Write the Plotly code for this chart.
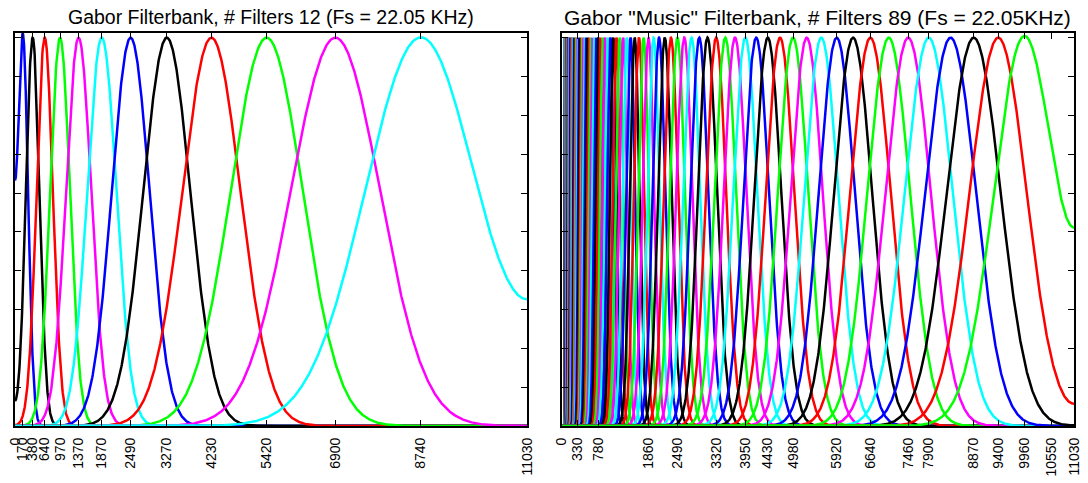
import numpy as np
import plotly.graph_objects as go

# ---------------- data ----------------
left_centers = [170, 380, 640, 970, 1370, 1870, 2490, 3270, 4230, 5420, 6900, 8740]
left_sigmas = [112, 145, 175, 213, 272, 315, 405, 505, 625, 775, 960, 1200]
left_ticks = [0, 170, 380, 640, 970, 1370, 1870, 2490, 3270, 4230, 5420, 6900, 8740, 11030]

# equal-tempered note centres B1 .. D#9 (89 filters)
right_centers = [
    61.74, 65.41, 69.30, 73.42, 77.78, 82.41, 87.31, 92.50, 98.00, 103.83, 110.00, 116.54, 123.47,
    130.81, 138.59, 146.83, 155.56, 164.81, 174.61, 185.00, 196.00, 207.65, 220.00, 233.08, 246.94,
    261.63, 277.18, 293.66, 311.13, 329.63, 349.23, 369.99, 392.00, 415.30, 440.00, 466.16, 493.88,
    523.25, 554.37, 587.33, 622.25, 659.26, 698.46, 739.99, 783.99, 830.61, 880.00, 932.33, 987.77,
    1046.50, 1108.73, 1174.66, 1244.51, 1318.51, 1396.91, 1479.98, 1567.98, 1661.22, 1760.00, 1864.66, 1975.53,
    2093.00, 2217.46, 2349.32, 2489.02, 2637.02, 2793.83, 2959.96, 3135.96, 3322.44, 3520.00, 3729.31, 3951.07,
    4186.01, 4434.92, 4698.64, 4978.03, 5274.04, 5587.65, 5919.91, 6271.93, 6644.88, 7040.00, 7458.62, 7902.13,
    8372.02, 8869.84, 9397.27, 9956.06,
]
right_rel_sigma = 0.065  # sigma / centre frequency (constant Q)
right_ticks = [0, 330, 780, 1860, 2490, 3320, 3950, 4430, 4980, 5920, 6640, 7460, 7900,
               8870, 9400, 9960, 10550, 11030]

colors = ["#0000FF", "#000000", "#FF0000", "#00FF00", "#FF00FF", "#00FFFF"]

NYQ = 11025.0
XMAX = 11030.0


def response(f, fc, s):
    # gaussian band with its mirror images at 0 Hz and at Nyquist
    return (np.exp(-(f - fc) ** 2 / (2 * s * s))
            + np.exp(-(f + fc) ** 2 / (2 * s * s))
            + np.exp(-(f - (2 * NYQ - fc)) ** 2 / (2 * s * s)))


def freq_grid(fc, s):
    base = np.linspace(0, XMAX, 1200)
    dense = fc + s * np.linspace(-6, 6, 201)
    g = np.unique(np.concatenate([base, dense]))
    return g[(g >= 0) & (g <= XMAX)]


fig = go.Figure()

for i, (fc, s) in enumerate(zip(left_centers, left_sigmas)):
    f = freq_grid(fc, s)
    fig.add_trace(go.Scatter(x=f, y=response(f, fc, s), mode="lines",
                             line=dict(color=colors[i % 6], width=2.5),
                             xaxis="x", yaxis="y", hoverinfo="skip"))

for i, fc in enumerate(right_centers):
    s = right_rel_sigma * fc
    f = freq_grid(fc, s)
    fig.add_trace(go.Scatter(x=f, y=response(f, fc, s), mode="lines",
                             line=dict(color=colors[(i + 5) % 6], width=2.5),
                             xaxis="x2", yaxis="y2", hoverinfo="skip"))

axis_style = dict(showline=True, linecolor="black", linewidth=2, mirror="ticks",
                  ticks="inside", ticklen=6, tickcolor="black", tickwidth=1,
                  showgrid=False, zeroline=False)
tick_font = dict(family="Liberation Sans, Arial, sans-serif", size=14, color="black")

W, H = 1088, 483
ml, mr, mt, mb = 15, 6, 33, 51
pw = W - ml - mr
d1 = 516 / pw
d2 = 551 / pw

fig.update_layout(
    width=W, height=H,
    margin=dict(l=ml, r=mr, t=mt, b=mb),
    paper_bgcolor="white", plot_bgcolor="white",
    showlegend=False,
    xaxis=dict(domain=[0, d1], range=[0, XMAX], tickmode="array",
               tickvals=left_ticks, ticktext=[str(v) for v in left_ticks],
               tickangle=-90, tickfont=tick_font, ticklabelstandoff=4,
               anchor="y", **axis_style),
    yaxis=dict(domain=[0, 1], range=[0, 1.012], dtick=0.1, tick0=0,
               showticklabels=False, anchor="x", **axis_style),
    xaxis2=dict(domain=[d2, 1], range=[0, XMAX], tickmode="array",
                tickvals=right_ticks, ticktext=[str(v) for v in right_ticks],
                tickangle=-90, tickfont=tick_font, ticklabelstandoff=4,
                anchor="y2", **axis_style),
    yaxis2=dict(domain=[0, 1], range=[0, 1.012], dtick=0.1, tick0=0,
                showticklabels=False, anchor="x2", **axis_style),
)

fig.add_annotation(text="Gabor Filterbank, # Filters 12 (Fs = 22.05 KHz)",
                   xref="paper", yref="paper", x=d1 / 2, y=1, xanchor="center",
                   yanchor="middle", yshift=16, showarrow=False,
                   font=dict(family="Liberation Sans, Arial, sans-serif", size=19.5, color="black"))
fig.add_annotation(text="Gabor \"Music\" Filterbank, # Filters 89 (Fs = 22.05KHz)",
                   xref="paper", yref="paper", x=(d2 + 1) / 2, y=1, xanchor="center",
                   yanchor="middle", yshift=16, showarrow=False,
                   font=dict(family="Liberation Sans, Arial, sans-serif", size=21, color="black"))

fig.write_html("out.html")
